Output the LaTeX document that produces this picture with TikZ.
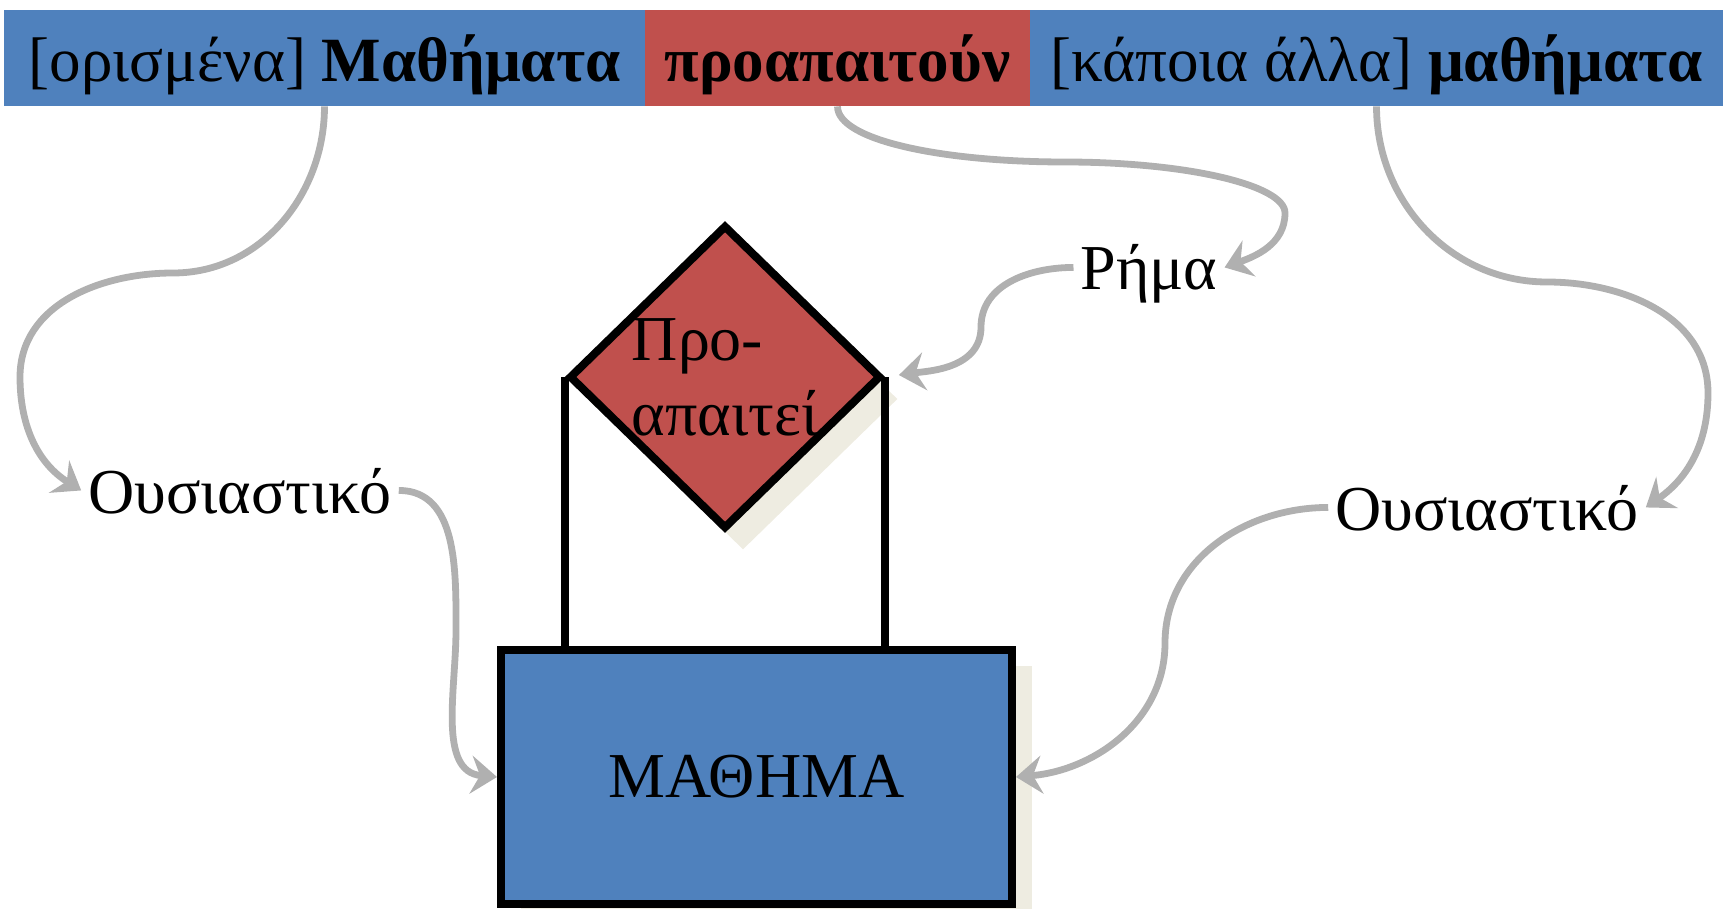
\documentclass[tikz,border=0pt]{standalone}
\usepackage{fontspec}
\setmainfont{Liberation Serif}
\usetikzlibrary{shapes.geometric,shadows,arrows.meta}
\definecolor{barblue}{HTML}{4F81BD}
\definecolor{barred}{HTML}{C0504D}
\definecolor{shade}{HTML}{EEECE1}
\definecolor{linkgray}{HTML}{B0B0B0}
\tikzset{
  bar/.style={rectangle,inner sep=0pt,minimum height=48pt,text height=30pt,text depth=6pt,font=\fontsize{31.5}{37.5}\selectfont},
  lbl/.style={text depth=0pt},
  link/.style={draw=linkgray,line width=3.4pt,->},
  shd/.style={drop shadow={shadow xshift=10pt,shadow yshift=-8pt,fill=shade,opacity=1}}
}
\begin{document}
\begin{tikzpicture}[x=0.5pt,y=0.5pt,>={Stealth[length=13pt,width=19pt,inset=4.5pt]},font=\fontsize{32}{37.5}\selectfont]
   \useasboundingbox (0,0) rectangle (1723,-909);
   % 上の帯
   \node[bar,fill=barblue,minimum width=320.5pt] (lbar) at (324.5,-58) {[ορισμένα] \textbf{Μαθήματα}};
   \node[bar,fill=barred,minimum width=192.5pt] (mbar) at (837.5,-58) {\textbf{προαπαιτούν}};
   \node[bar,fill=barblue,minimum width=346.5pt] (rbar) at (1376.5,-58) {[κάποια άλλα] \textbf{μαθήματα}};

   % 図形
   \node[diamond,aspect=1,draw,line width=4pt,fill=barred,inner sep=0pt,minimum width=156pt,align=left,
         drop shadow={shadow xshift=9pt,shadow yshift=-11pt,fill=shade,opacity=1}] (req) at (725,-377) {Προ-\\απαιτεί};
   \node[draw,line width=4pt,fill=barblue,minimum width=255.5pt,minimum height=127pt,shd] (course) at (756.5,-777) {ΜΑΘΗΜΑ};
   \draw[line width=4pt] (req.west) -- (req.west |- course.north);
   \draw[line width=4pt] (req.east) -- (req.east |- course.north);

   \node[lbl,anchor=base] (noun1) at (240,-513) {Ουσιαστικό};
   \node[lbl,anchor=base] (verb) at (1149,-290) {Ρήμα};
   \node[lbl,anchor=base] (noun2) at (1487,-530) {Ουσιαστικό};

   % 矢印
   \draw[link] (lbar.south) to[out=-90,in=0] (173,-273) to[out=180,in=90] (20,-377) to[out=-90,in=148] (noun1.west);
   \draw[link] (mbar.south) .. controls +(0,-34) and +(-122,0) .. (1065,-162)
                            .. controls +(121,0) and +(0,28) .. (1285,-213) to[out=-90,in=20] (verb.east);
   \draw[link,shorten >=7pt] (verb.west) to[out=180,in=90] (981,-327) to[out=-90,in=8] (req.east);
   \draw[link] (rbar.south) to[out=-90,in=180] (1547,-282) to[out=0,in=90] (1708,-393) to[out=-90,in=35] (noun2.east);
   \draw[link] (noun1.east) to[out=0,in=90] (456,-630) to[out=-90,in=175] (course.west);
   \draw[link] (noun2.west) to[out=180,in=90] (1165,-643) to[out=-90,in=5] (course.east);
\end{tikzpicture}
\end{document}
